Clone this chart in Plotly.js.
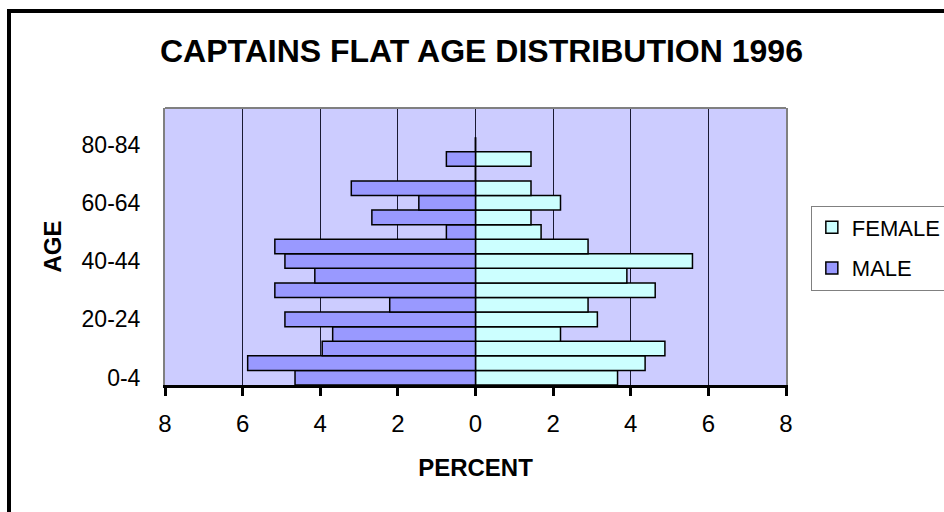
<!DOCTYPE html>
<html>
<head>
<meta charset="utf-8">
<script src="https://cdn.plot.ly/plotly-3.0.1.min.js"></script>
<style>
html,body{margin:0;padding:0;background:#fff;overflow:hidden;}
#chart{width:944px;height:512px;}
#frame{position:absolute;left:7px;top:9px;width:980px;height:560px;border:4px solid #000;box-sizing:border-box;pointer-events:none;}
</style>
</head>
<body>
<div id="chart"></div>
<div id="frame"></div>
<script>
const ageGroups = ["0-4","5-9","10-14","15-19","20-24","25-29","30-34","35-39","40-44","45-49","50-54","55-59","60-64","65-69","70-74","75-79","80-84"];
const malePct   = [4.65, 5.87, 3.95, 3.68, 4.91, 2.21, 5.17, 4.14, 4.91, 5.17, 0.75, 2.67, 1.46, 3.20, 0, 0.75, 0];
const femalePct = [3.66, 4.37, 4.88, 2.19, 3.14, 2.90, 4.63, 3.90, 5.59, 2.90, 1.69, 1.43, 2.19, 1.43, 0, 1.43, 0];
const shownAgeTicks = ["0-4","20-24","40-44","60-64","80-84"];
const xTickVals = [-8,-6,-4,-2,0,2,4,6,8];
const xTickText = ["8","6","4","2","0","2","4","6","8"];

const FONT = "Liberation Sans, Arial, sans-serif";

const traces = [
  {
    type: "bar", orientation: "h", name: "FEMALE", legendgroup: "f",
    y: ageGroups, x: femalePct,
    marker: {color: "#CCFFFF", line: {color: "#000", width: 1.5}},
    hoverinfo: "skip"
  },
  {
    type: "bar", orientation: "h", name: "MALE", legendgroup: "m",
    y: ageGroups, x: malePct.map(v => -v),
    marker: {color: "#9999FF", line: {color: "#000", width: 1.5}},
    hoverinfo: "skip"
  }
];

const layout = {
  width: 944, height: 512,
  margin: {l: 165, r: 158, t: 108, b: 127, autoexpand: false},
  paper_bgcolor: "#ffffff",
  plot_bgcolor: "#CCCCFF",
  barmode: "overlay",
  bargap: 0,
  font: {family: FONT, color: "#000", size: 23},
  title: {
    text: "CAPTAINS FLAT AGE DISTRIBUTION 1996",
    font: {family: FONT, size: 32, weight: "bold", color: "#000"},
    x: 0.51, xanchor: "center", xref: "container",
    y: 1 - 51/512, yanchor: "middle", yref: "container"
  },
  xaxis: {
    range: [-8, 8],
    tickvals: xTickVals, ticktext: xTickText,
    showgrid: true, gridcolor: "#1a1a33", gridwidth: 1,
    zeroline: false,
    showline: true, linecolor: "#000", linewidth: 3,
    ticks: "outside", ticklen: 8, tickwidth: 3, tickcolor: "#000",
    tickfont: {family: FONT, size: 24, color: "#000"},
    ticklabelstandoff: 7,
    title: {text: "PERCENT", font: {family: FONT, size: 24, weight: "bold", color: "#000"}, standoff: 24},
    fixedrange: true
  },
  yaxis: {
    type: "category",
    categoryorder: "array", categoryarray: ageGroups,
    range: [-0.5, 18.5],
    tickvals: shownAgeTicks, ticktext: shownAgeTicks,
    showgrid: false, zeroline: false,
    showline: true, linecolor: "#808080", linewidth: 2, mirror: true,
    ticks: "",
    tickfont: {family: FONT, size: 23, color: "#000"},
    ticklabelstandoff: 18,
    title: {text: "AGE", font: {family: FONT, size: 24, weight: "bold", color: "#000"}, standoff: 13},
    fixedrange: true
  },
  shapes: [
    {type: "line", xref: "paper", yref: "paper", x0: 0, x1: 1, y0: 1, y1: 1, line: {color: "#808080", width: 2}, layer: "above"}
  ],
  legend: {
    x: 1.04, xanchor: "left", xref: "paper",
    y: 0.648, yanchor: "top", yref: "paper",
    traceorder: "grouped",
    bgcolor: "#ffffff", bordercolor: "#808080", borderwidth: 1,
    font: {family: FONT, size: 22, color: "#000"},
    itemwidth: 30,
    tracegroupgap: 9
  },
  showlegend: true
};

Plotly.newPlot("chart", traces, layout, {displayModeBar: false, staticPlot: true});
</script>
</body>
</html>
